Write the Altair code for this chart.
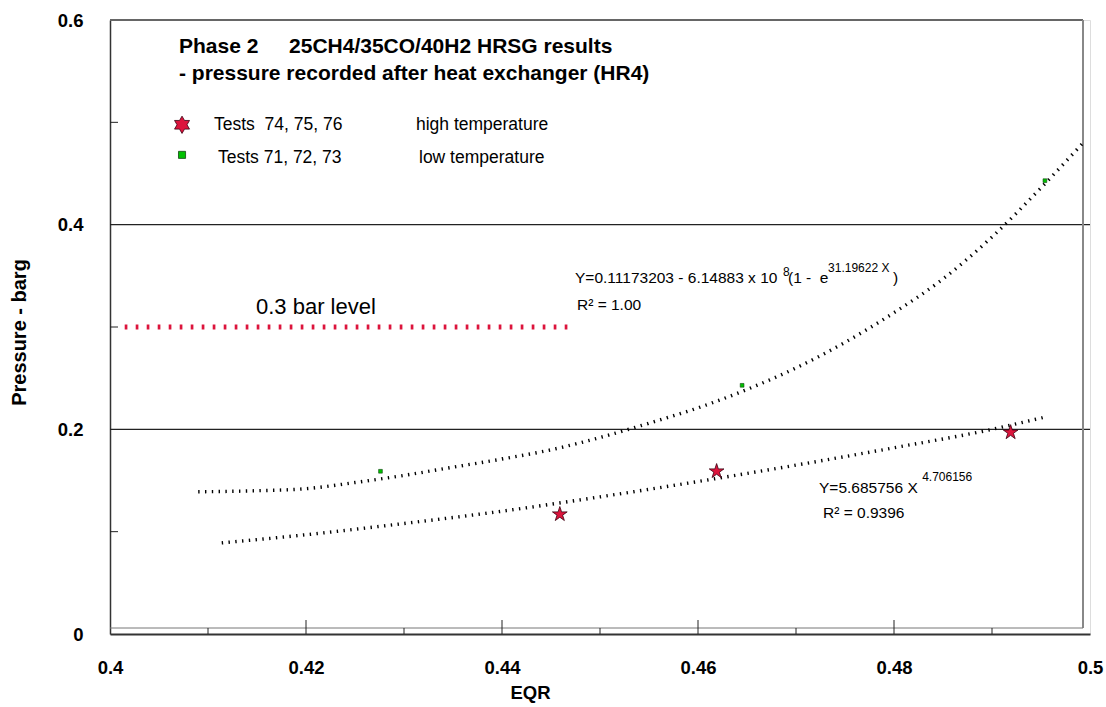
import altair as alt
import pandas as pd

W, H = 980, 614

high_eqr = [0.4459, 0.4619, 0.4919]          # tests 74, 75, 76
high_p = [0.117, 0.159, 0.197]
low_eqr = [0.4276, 0.4645, 0.4954]           # tests 71, 72, 73
low_p = [0.159, 0.243, 0.443]

# trend curves
low_fit_eqr = [0.409, 0.415, 0.420, 0.425, 0.430, 0.435, 0.440, 0.445, 0.450, 0.455,
               0.460, 0.465, 0.470, 0.475, 0.480, 0.485, 0.490, 0.495, 0.4993]
low_fit_p = [0.139, 0.140, 0.142, 0.148, 0.155, 0.163, 0.171, 0.180, 0.192, 0.206,
             0.221, 0.239, 0.260, 0.285, 0.314, 0.347, 0.388, 0.436, 0.480]
high_fit_eqr = [0.4114, 0.420, 0.430, 0.440, 0.450, 0.460, 0.470, 0.480, 0.490, 0.4954]
high_fit_p = [0.089, 0.097, 0.108, 0.120, 0.134, 0.149, 0.165, 0.182, 0.200, 0.212]

limit_eqr = [0.4015, 0.4471]
limit_p = [0.3, 0.3]

# axes
x_labels = [0.4, 0.42, 0.44, 0.46, 0.48, 0.5]
y_labels = [0, 0.2, 0.4, 0.6]
grid_y = [0.2, 0.4]
minor_y = [0.1, 0.3, 0.5]
minor_x = [0.41, 0.43, 0.45, 0.47, 0.49]
major_x = [0.42, 0.44, 0.46, 0.48]

# texts
title_texts = ["Phase 2", "25CH4/35CO/40H2 HRSG results",
               "- pressure recorded after heat exchanger (HR4)"]
title_x = [0.40704, 0.41827, 0.40704]
title_y = [0.5679, 0.5679, 0.5416]

legend_texts = ["Tests\u00a0 74, 75, 76", "high temperature", "Tests 71, 72, 73", "low temperature"]
legend_x = [0.41061, 0.43122, 0.41102, 0.43153]
legend_y = [0.4927, 0.4927, 0.4604, 0.4604]
legend_sym_x = [0.40735, 0.40735]
legend_sym_y = [0.4976, 0.4682]

eq_texts = ["Y=0.11173203 - 6.14883 x 10", "(1 -\u00a0 e", ")", "R\u00b2 = 1.00",
            "Y=5.685756 X", "R\u00b2 = 0.9396"]
eq_x = [0.44745, 0.46918, 0.47990, 0.44765, 0.47235, 0.47276]
eq_y = [0.3431, 0.3431, 0.3431, 0.3167, 0.1378, 0.1134]

sup_texts = ["8", "31.19622 X", "4.706156"]
sup_x = [0.46867, 0.47327, 0.48287]
sup_y = [0.3500, 0.3539, 0.1496]

level_text = ["0.3 bar level"]
level_x = [0.41490]
level_y = [0.3128]

STAR5 = ("M0,-1L0.2245,-0.309L0.9511,-0.309L0.3633,0.118L0.5878,0.809L0,0.382"
         "L-0.5878,0.809L-0.3633,0.118L-0.9511,-0.309L-0.2245,-0.309Z")
HEXA = ("M0,-1L0.2887,-0.5L0.866,-0.5L0.577,0L0.866,0.5L0.2887,0.5L0,1L-0.2887,0.5"
        "L-0.866,0.5L-0.577,0L-0.866,-0.5L-0.2887,-0.5Z")
RED = "#DC143C"

xs = alt.Scale(domain=[0.4, 0.5], nice=False, zero=False)
ys = alt.Scale(domain=[0, 0.6], nice=False, zero=False)

x_axis = alt.Axis(values=x_labels, format="~g", title="EQR", ticks=False, tickSize=0,
                  grid=False, domainColor="#333", domainWidth=2, labelFontSize=18.5,
                  labelFontWeight="bold", labelColor="#000", labelPadding=24,
                  labelFlush=False, labelOverlap=False, titleFontSize=18.5,
                  titleFontWeight="bold", titleColor="#000", titleX=420, titleY=58,
                  titleAlign="center", titleBaseline="middle")
y_axis = alt.Axis(values=y_labels, format="~g", title="Pressure - barg", ticks=False,
                  tickSize=0, grid=False, domainColor="#333", domainWidth=1.5,
                  labelFontSize=18.5, labelFontWeight="bold", labelColor="#000",
                  labelPadding=27, labelFlush=False, labelOverlap=False,
                  titleFontSize=20, titleFontWeight="bold", titleColor="#000",
                  titleX=-91, titleY=312, titleAngle=270, titleAlign="center",
                  titleBaseline="middle")


def X(f="x"):
    return alt.X(f"{f}:Q", scale=xs, axis=x_axis)


def Y(f="y"):
    return alt.Y(f"{f}:Q", scale=ys, axis=y_axis)


# ---- frame, grid and ticks ----
grid = alt.Chart(pd.DataFrame({"y": grid_y})).mark_rule(color="#222", strokeWidth=1.2).encode(
    y=Y(), x=alt.value(0), x2=alt.value(W))
top_border = alt.Chart(pd.DataFrame({"y": [0.6]})).mark_rule(color="#666", strokeWidth=2).encode(
    y=Y(), x=alt.value(0), x2=alt.value(W - 7))
right_border = alt.Chart(pd.DataFrame({"y": [0.6]})).mark_rule(color="#888", strokeWidth=2).encode(
    y=Y(), y2=alt.value(H - 6), x=alt.value(W - 7))
inner_bottom = alt.Chart(pd.DataFrame({"y": [0]})).mark_rule(color="#777", strokeWidth=1).encode(
    y=alt.value(H - 6), x=alt.value(0), x2=alt.value(W - 7))
yticks = alt.Chart(pd.DataFrame({"y": minor_y})).mark_rule(color="#222", strokeWidth=1).encode(
    y=Y(), x=alt.value(0), x2=alt.value(8))
xticks_minor = alt.Chart(pd.DataFrame({"x": minor_x})).mark_rule(color="#222", strokeWidth=1).encode(
    x=X(), y=alt.value(H), y2=alt.value(H - 6))
xticks_major = alt.Chart(pd.DataFrame({"x": major_x})).mark_rule(color="#222", strokeWidth=1).encode(
    x=X(), y=alt.value(H), y2=alt.value(H - 14))

# ---- curves ----
fit_df = pd.concat([
    pd.DataFrame({"x": low_fit_eqr, "y": low_fit_p, "s": "low"}),
    pd.DataFrame({"x": high_fit_eqr, "y": high_fit_p, "s": "high"}),
])
fits = alt.Chart(fit_df).mark_line(color="black", strokeWidth=3.4, strokeDash=[1.4, 5.4],
                                   interpolate="monotone").encode(
    x=X(), y=Y(), detail="s:N")

limit = alt.Chart(pd.DataFrame({"x": limit_eqr, "y": limit_p})).mark_line(
    color=RED, strokeWidth=5, strokeDash=[2.7, 8.3]).encode(x=X(), y=Y())

stars = alt.Chart(pd.DataFrame({"x": high_eqr, "y": high_p})).mark_point(
    shape=STAR5, filled=True, fill=RED, stroke="#3a0010", strokeWidth=0.8, size=240,
    opacity=1).encode(x=X(), y=Y())
squares = alt.Chart(pd.DataFrame({"x": low_eqr, "y": low_p})).mark_point(
    shape="square", filled=True, fill="#00C000", stroke="#114411", strokeWidth=0.6, size=14,
    opacity=1).encode(x=X(), y=Y())

leg_star = alt.Chart(pd.DataFrame({"x": legend_sym_x[:1], "y": legend_sym_y[:1]})).mark_point(
    shape=HEXA, filled=True, fill=RED, stroke="#3a0010", strokeWidth=0.8, size=300,
    opacity=1).encode(x=X(), y=Y())
leg_sq = alt.Chart(pd.DataFrame({"x": legend_sym_x[1:], "y": legend_sym_y[1:]})).mark_point(
    shape="square", filled=True, fill="#00C000", stroke="#114411", strokeWidth=0.8, size=50,
    opacity=1).encode(x=X(), y=Y())


def texts(t, xv, yv, size, weight="normal"):
    df = pd.DataFrame({"x": xv, "y": yv, "t": t})
    return alt.Chart(df).mark_text(align="left", baseline="alphabetic", fontSize=size,
                                   fontWeight=weight, color="black",
                                   font="Liberation Sans").encode(x=X(), y=Y(), text="t:N")


chart = alt.layer(
    grid, top_border, right_border, inner_bottom, yticks, xticks_minor, xticks_major,
    fits, limit, stars, squares, leg_star, leg_sq,
    texts(title_texts, title_x, title_y, 21, "bold"),
    texts(legend_texts, legend_x, legend_y, 17.5),
    texts(eq_texts, eq_x, eq_y, 15.5),
    texts(sup_texts, sup_x, sup_y, 12),
    texts(level_text, level_x, level_y, 22),
).properties(
    width=W, height=H,
    padding={"left": 110, "top": 20, "right": 16, "bottom": 73},
    autosize=alt.AutoSizeParams(type="none"),
    background="white",
).configure_view(stroke=None).configure(font="Liberation Sans")

chart.save("out.html", embed_options={"renderer": "svg", "actions": False})
